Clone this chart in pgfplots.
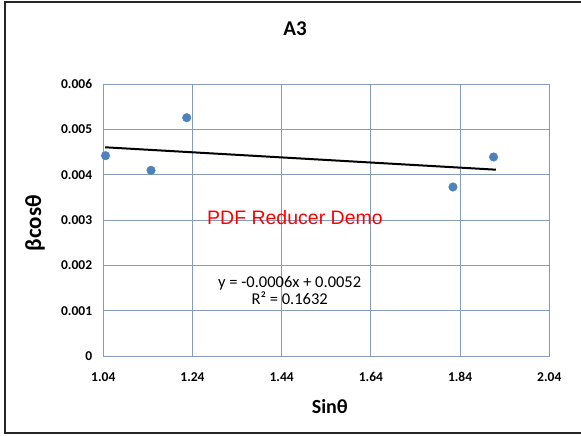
\documentclass[border=0pt]{standalone}
\usepackage{fontspec}
\setmainfont{Carlito}
\newfontfamily\arialfont{Liberation Sans}
\usepackage{pgfplots}
\pgfplotsset{compat=1.18}
\definecolor{gridc}{RGB}{134,155,188}
\definecolor{markc}{RGB}{79,129,189}
\begin{document}
\begin{tikzpicture}
\useasboundingbox (0pt,0pt) rectangle (581pt,436pt);
\draw[line width=2.5pt, color=black!85] (585pt,434pt) -- (5pt,434pt) -- (5pt,3pt) -- (585pt,3pt);
\begin{axis}[
  at={(103.3pt,80pt)}, anchor=south west,
  scale only axis, width=446pt, height=272pt,
  xmin=1.04, xmax=2.04, ymin=0, ymax=0.006,
  xtick={1.04,1.24,1.44,1.64,1.84,2.04},
  ytick={0,0.001,0.002,0.003,0.004,0.005,0.006},
  scaled y ticks=false,
  grid=major,
  grid style={gridc, line width=0.9pt},
  axis line style={gridc, line width=0.9pt},
  major tick length=0pt,
  /pgf/number format/assume math mode=true,
  xticklabel style={font=\fontsize{13.5}{15}\selectfont\bfseries, anchor=base, yshift=-26pt,
    /pgf/number format/fixed, /pgf/number format/precision=2},
  yticklabel style={font=\fontsize{13.5}{15}\selectfont\bfseries, anchor=east, inner sep=0pt, xshift=-11pt,
    /pgf/number format/fixed, /pgf/number format/precision=3},
  title={A3},
  title style={font=\fontsize{21}{23}\selectfont\bfseries, at={(axis description cs:0.43,1.182)}, anchor=center},
  xlabel={Sinθ},
  xlabel style={font=\fontsize{20}{22}\selectfont\bfseries, at={(axis description cs:0.508,-0.1875)}, anchor=center},
  ylabel={βcosθ},
  ylabel style={font=\fontsize{23}{25}\selectfont\bfseries, at={(axis description cs:-0.153,0.489)}, anchor=center},
]
\addplot[only marks, mark=*, mark size=4.3pt, mark options={fill=markc, draw=markc}]
  coordinates {(1.045,0.004418) (1.147,0.004096) (1.227,0.005257) (1.824,0.003728) (1.915,0.004390)};
\addplot[black, line width=2pt, no marks]
  coordinates {(1.044,0.004604) (1.920,0.004110)};
\node[text=red, font=\arialfont\fontsize{19.5}{21}\selectfont] at (axis cs:1.4697,0.003044) {PDF Reducer Demo};
\node[align=center, font=\fontsize{16.5}{17.5}\selectfont, text=black] at (axis cs:1.458,0.001447) {y = -0.0006x + 0.0052\\R² = 0.1632};
\end{axis}
\end{tikzpicture}
\end{document}
